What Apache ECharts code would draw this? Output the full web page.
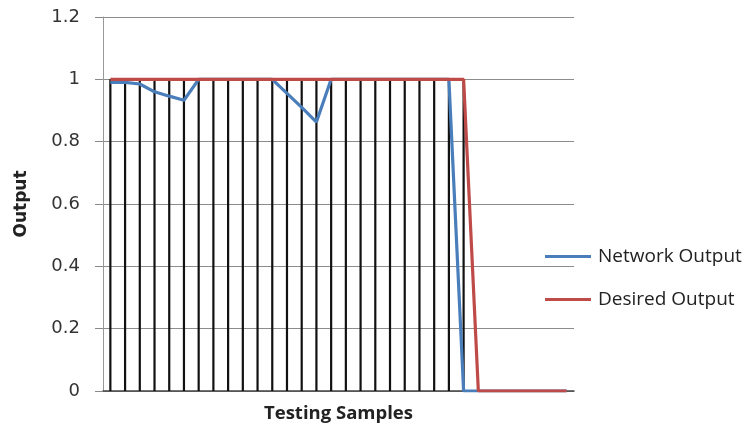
<!DOCTYPE html>
<html>
<head>
<meta charset="utf-8">
<script src="https://cdn.jsdelivr.net/npm/echarts@6/dist/echarts.min.js"></script>
<style>html,body{margin:0;padding:0;background:#fff}#c{width:751px;height:425px}</style>
</head>
<body>
<div id="c"></div>
<script>
const categories = Array.from({length: 32}, (_, i) => String(i + 1));
const networkOutput = [0.99,0.99,0.985,0.96,0.946,0.933,1,1,1,1,1,1,0.955,0.91,0.863,1,1,1,1,1,1,1,1,1,0,0,0,0,0,0,0,0];
const desiredOutput = [1,1,1,1,1,1,1,1,1,1,1,1,1,1,1,1,1,1,1,1,1,1,1,1,1,0,0,0,0,0,0,0];
const yTicks = [0, 0.2, 0.4, 0.6, 0.8, 1, 1.2];
const dropLines = networkOutput.map((v, i) => Math.max(v, desiredOutput[i]));

const chart = echarts.init(document.getElementById('c'));
chart.setOption({
  animation: false,
  grid: {left: 103, right: 177, top: 17, bottom: 34, containLabel: false, outerBoundsMode: 'none'},
  legend: {
    orient: 'vertical', left: 540, top: 242, itemGap: 24,
    itemWidth: 46, itemHeight: 3,
    icon: 'rect',
    data: ['Network Output', 'Desired Output'],
    textStyle: {fontFamily: 'Open Sans', fontSize: 19, color: '#222', padding: [0, 0, 0, 2]}
  },
  xAxis: {
    type: 'category', data: categories, boundaryGap: true,
    name: 'Testing Samples', nameLocation: 'middle', nameGap: 13,
    nameTextStyle: {fontFamily: 'Open Sans', fontWeight: 'bold', fontSize: 18.5, color: '#222'},
    axisLine: {lineStyle: {color: '#444', width: 1.5}},
    axisTick: {show: false}, axisLabel: {show: false}, splitLine: {show: false}
  },
  yAxis: {
    type: 'value', min: 0, max: 1.2, interval: 0.2,
    name: 'Output', nameLocation: 'middle', nameGap: 73, nameRotate: 90,
    nameTextStyle: {fontFamily: 'DejaVu Sans', fontWeight: 'bold', fontSize: 17, color: '#222'},
    axisLine: {show: true, lineStyle: {color: '#999'}},
    axisTick: {show: true, length: 8, inside: false, lineStyle: {color: '#888'}},
    axisLabel: {margin: 23, fontFamily: 'DejaVu Sans', fontSize: 18, color: '#333',
      formatter: v => { const t = yTicks.find(x => Math.abs(x - v) < 1e-9); return String(+(t ?? v).toFixed(1)); }},
    splitLine: {lineStyle: {color: '#8c8c8c', width: 1.2}}
  },
  series: [
    {name: 'Drop', type: 'bar', data: dropLines, barWidth: 2.2, z: 1,
     itemStyle: {color: '#111'}, silent: true},
    {name: 'Network Output', type: 'line', data: networkOutput, symbol: 'none', z: 3,
     lineStyle: {color: '#4a7ebb', width: 3.2}, itemStyle: {color: '#4a7ebb'}},
    {name: 'Desired Output', type: 'line', data: desiredOutput, symbol: 'none', z: 4,
     lineStyle: {color: '#be4b48', width: 3.2}, itemStyle: {color: '#be4b48'}}
  ]
});
</script>
</body>
</html>
